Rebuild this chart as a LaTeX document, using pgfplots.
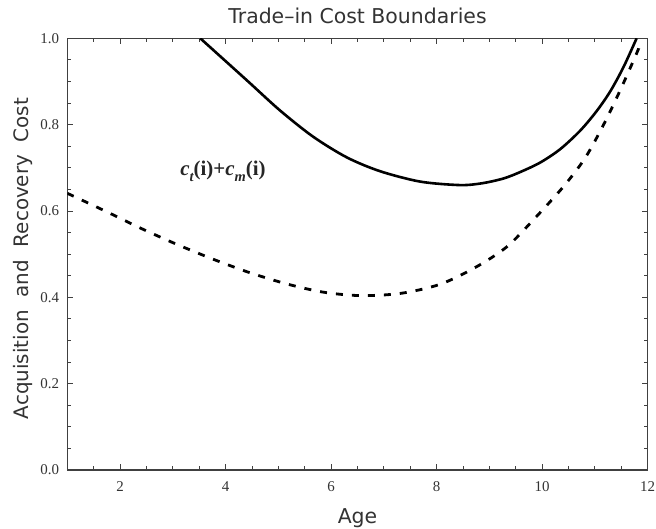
\documentclass[border=0pt]{standalone}
\usepackage{fontspec}
\setmainfont{Liberation Serif}
\newfontfamily\dejavu{DejaVu Sans}
\usepackage{pgfplots}
\pgfplotsset{compat=1.18}
\definecolor{txt}{HTML}{333333}
\newcommand\tlfont{\fontsize{15}{15}\selectfont}
\begin{document}
\begin{tikzpicture}
\path[use as bounding box] (-67.3bp,-59bp) rectangle (588.7bp,470bp);
\begin{axis}[
  at={(0,0)}, anchor=south west,
  scale only axis, width=580.4bp, height=431.7bp,
  xmin=1, xmax=12, ymin=0, ymax=1,
  xtick={2,4,6,8,10,12},
  minor xtick={1.5,2.5,3,3.5,4.5,5,5.5,6.5,7,7.5,8.5,9,9.5,10.5,11,11.5},
  ytick={0,0.2,0.4,0.6,0.8,1},
  minor y tick num=3,
  tick pos=both, tick align=inside,
  major tick length=6bp, minor tick length=4bp,
  axis line style={black!75, line width=1.2bp},
  every tick/.style={black!75, line width=0.9bp},
  /pgf/number format/assume math mode=true,
  tick label style={font=\tlfont, text=txt, inner sep=0pt},
  xticklabel={\tlfont\pgfmathprintnumber[assume math mode=true]{\tick}},
  yticklabel={\tlfont\pgfmathprintnumber[assume math mode=true,fixed,fixed zerofill,precision=1]{\tick}},
  xticklabel shift=11bp,
  yticklabel shift=8bp,
]
\addplot[black, line width=2.6bp, smooth] coordinates {
(3.52,1.0) (4.40,0.903) (5.03,0.833) (5.66,0.772) (6.30,0.724) (6.93,0.692)
(7.69,0.668) (8.44,0.660) (8.85,0.664) (9.26,0.675) (9.58,0.690) (9.96,0.712)
(10.34,0.743) (10.72,0.786) (11.03,0.831) (11.29,0.877) (11.54,0.933) (11.79,1.0)
};
\addplot[black, line width=2.8bp, dash pattern=on 7bp off 9bp, smooth] coordinates {
(1.0,0.641) (1.75,0.598) (2.41,0.559) (3.07,0.523) (3.77,0.488) (4.46,0.457)
(5.16,0.431) (5.85,0.412) (6.55,0.404) (7.31,0.409) (8.06,0.430) (8.73,0.469)
(9.33,0.517) (9.86,0.583) (10.40,0.656) (10.81,0.722) (11.16,0.799)
(11.48,0.880) (11.79,0.965) (11.83,0.978)
};
\node[font=\bfseries\fontsize{21}{21}\selectfont, text=black!85] at (axis cs:3.95,0.692)
  {\itshape c\raisebox{-0.3em}{\fontsize{14.5}{14.5}\selectfont t}\upshape(i)+\itshape c\raisebox{-0.3em}{\fontsize{14.5}{14.5}\selectfont m}\upshape(i)};
\end{axis}
\node[anchor=base, font=\dejavu\fontsize{20.5}{21}\selectfont, text=txt] at (290.2bp,446bp) {Trade–in Cost Boundaries};
\node[anchor=base, font=\dejavu\fontsize{20.5}{21}\selectfont, text=txt] at (290.2bp,-53bp) {Age};
\node[anchor=base, rotate=90, font=\dejavu\fontsize{20}{21}\selectfont, text=txt] at (-38.8bp,211.5bp) {Acquisition\ \ and\ \ Recovery\ \ Cost};
\end{tikzpicture}
\end{document}
